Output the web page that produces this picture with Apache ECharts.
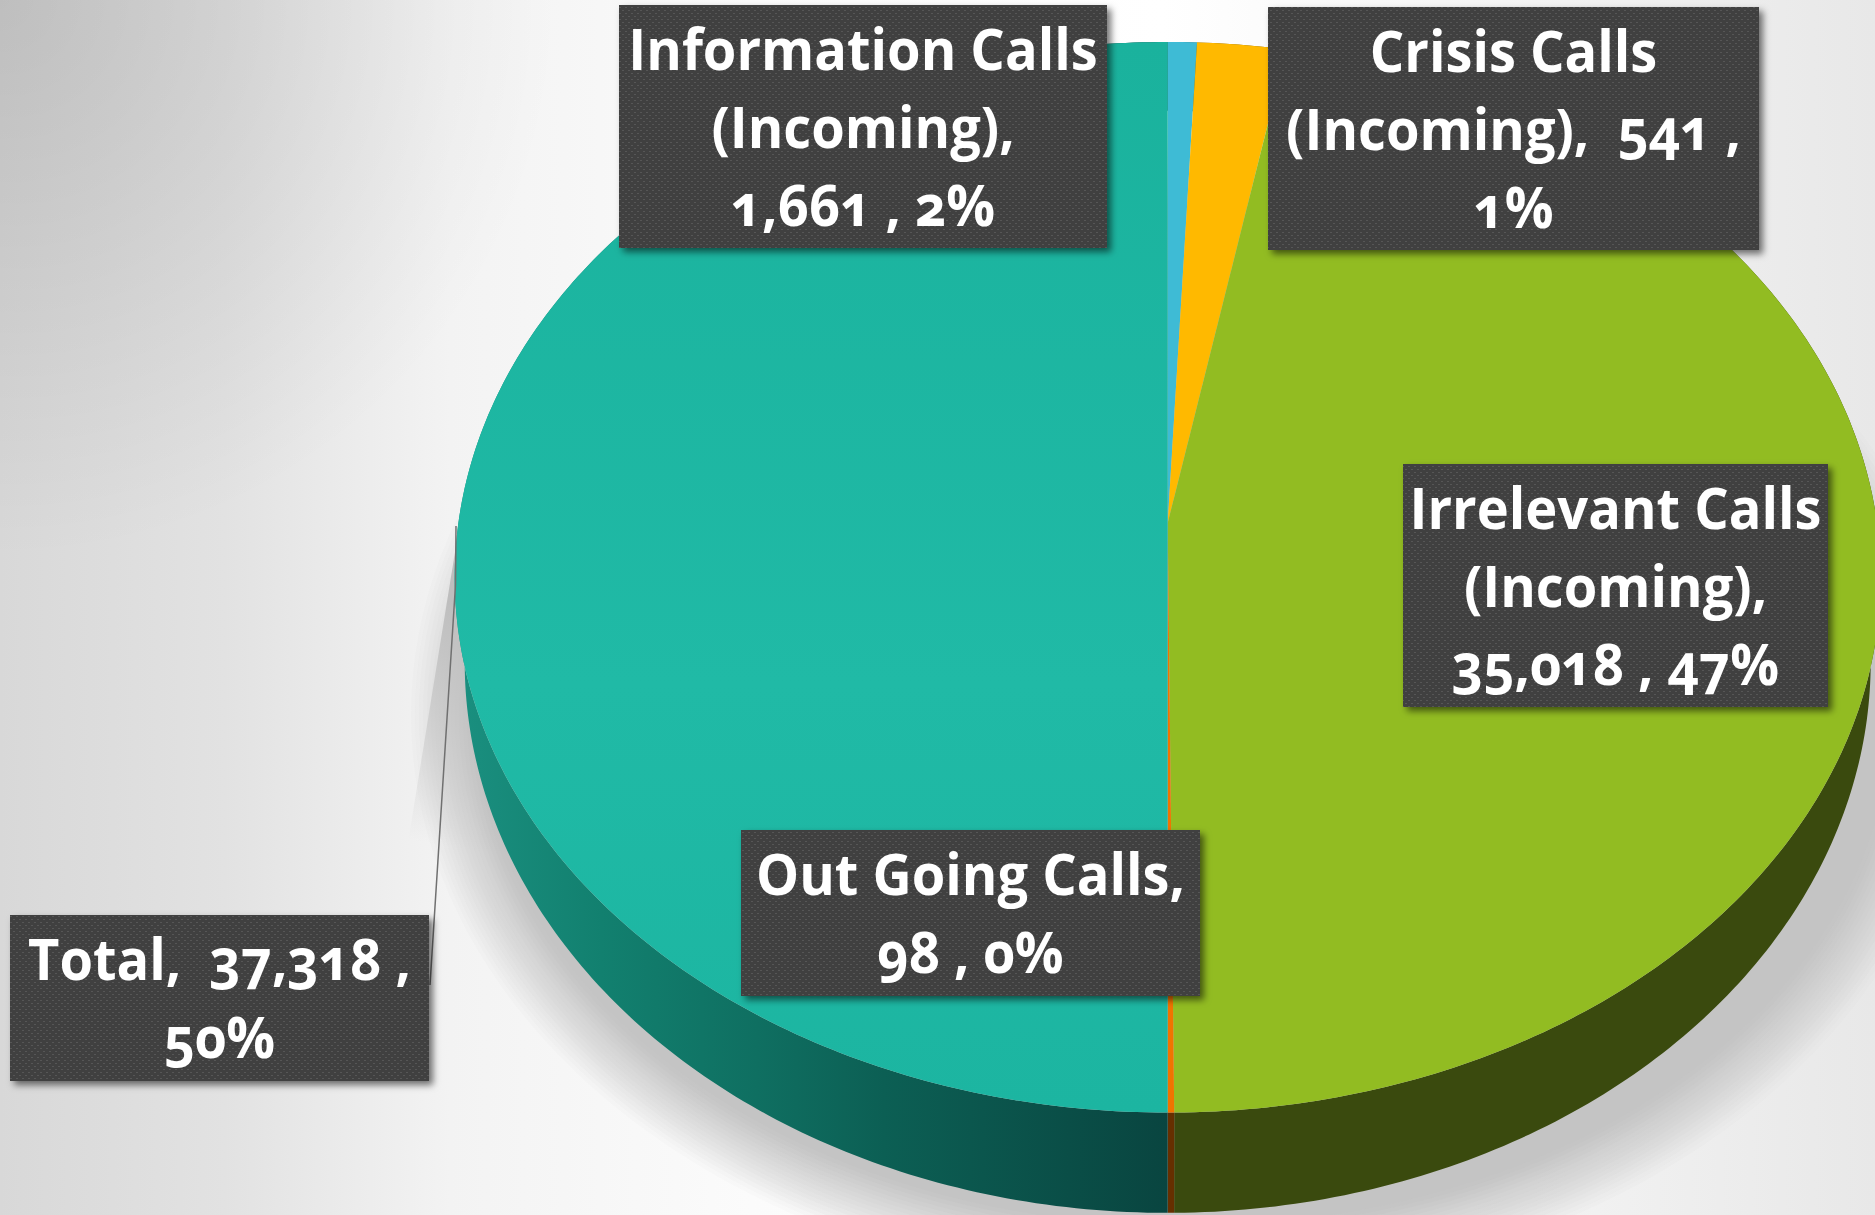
<!DOCTYPE html>
<html><head><meta charset="utf-8">
<style>
html,body{margin:0;padding:0;background:#fff;overflow:hidden}
#c{width:1875px;height:1215px}
svg text{font-feature-settings:"onum" 1 !important;font-variant-numeric:oldstyle-nums !important}
</style>
<script src="https://cdn.jsdelivr.net/npm/echarts@6/dist/echarts.min.js"></script>
</head><body><div id="c"></div>
<script>
// ---- data ----
const categories = ["Crisis Calls (Incoming)", "Information Calls (Incoming)", "Irrelevant Calls (Incoming)", "Out Going Calls", "Total"];
const values = [541, 1661, 35018, 98, 37318];
const topColors = ["#3EBBD5", "#FFB900", "#92BC22", "#F07400", "#1EB7A2"];
const wallColors = ["#1D6A7A", "#7A5800", "#3A4A0E", "#662F00", "#0E6C5F"];

// ---- layout of the tilted disc (perspective projection of a circle) ----
const CX = 1167.7;
const TOP = {y0: 523, p: 0.1014, ry: 535.3 * (1 - 0.1014 * 0.1014), rx: 713 * Math.sqrt(1 - 0.1014 * 0.1014)};
const BOT = {y0: 606, p: 0.1014, ry: 551 * (1 - 0.1014 * 0.1014), rx: 703 * Math.sqrt(1 - 0.1014 * 0.1014)};
const total = values.reduce((a, b) => a + b, 0);
const starts = [];
values.reduce((acc, v, i) => { starts[i] = acc; return acc + v; }, 0);
function project(P, deg) {
  const t = deg * Math.PI / 180, s = Math.sin(t), c = Math.cos(t), w = 1 + P.p * c;
  return [CX + P.rx * s / w, P.y0 - P.ry * c / w];
}
function arc(P, a, b) {
  const pts = [], n = Math.max(2, Math.ceil((b - a) / 0.75));
  for (let i = 0; i <= n; i++) pts.push(project(P, a + (b - a) * i / n));
  return pts;
}
const G = echarts.graphic;
function topFill(i) {
  if (i === 4) return new G.LinearGradient(0, 42, 0, 1112, [
    {offset: 0, color: '#1AB29D'}, {offset: .6, color: '#20BAA6'}, {offset: 1, color: '#1CB5A1'}], true);
  return topColors[i];
}
function wallFill(i) {
  if (i === 4) return new G.LinearGradient(460, 0, 1167, 0, [
    {offset: 0, color: '#1A8F7F'}, {offset: .2, color: '#12806F'}, {offset: .42, color: '#0F6F61'},
    {offset: .6, color: '#0C5F54'}, {offset: 1, color: '#094540'}], true);
  return wallColors[i];
}
function sliceAngles(i) { return [starts[i] / total * 360, (starts[i] + values[i]) / total * 360]; }

// ---- label layout (px) ----
const boxes = [
  {x: 1268, y: 7, w: 491, h: 243, second: true},
  {x: 619, y: 5, w: 488, h: 243, second: false},
  {x: 1403, y: 464, w: 425, h: 243, second: false},
  {x: 741, y: 830, w: 459, h: 166, second: false},
  {x: 10, y: 915, w: 419, h: 166, second: true}
];
const FONT_SIZE = 58, LINE = 78, SCALE_X = 0.935;
function labelLines(i) {
  const v = values[i].toLocaleString('en-US'), pct = Math.round(values[i] / total * 100) + '%';
  const name = categories[i];
  const head = name.includes(' (') ? [name.slice(0, name.indexOf(' (')), name.slice(name.indexOf(' (') + 1)] : [name];
  if (boxes[i].second) {
    head[head.length - 1] += ',  ' + v + ' ,';
    return head.concat(pct);
  }
  head[head.length - 1] += ',';
  return head.concat(v + ' , ' + pct);
}
const patCanvas = document.createElement('canvas');
patCanvas.width = patCanvas.height = 6;
const pc = patCanvas.getContext('2d');
pc.fillStyle = '#404040'; pc.fillRect(0, 0, 6, 6);
pc.fillStyle = '#575757'; pc.fillRect(1, 1, 2, 1); pc.fillRect(4, 4, 2, 1);

const graphicEls = [];
const bgRect = {x: 0, y: 0, width: 1875, height: 1215};
graphicEls.push({type: 'rect', z: -30, silent: true, shape: bgRect,
  style: {fill: new G.LinearGradient(0, 0, 1875, 0, [
    {offset: 0, color: '#d8d8d8'}, {offset: .12, color: '#e2e2e2'}, {offset: .24, color: '#f3f3f3'},
    {offset: .4, color: '#fbfbfb'}, {offset: .62, color: '#ffffff'}, {offset: 1, color: '#e8e8e8'}], true)}});
graphicEls.push({type: 'rect', z: -29, silent: true, shape: bgRect,
  style: {fill: new G.RadialGradient(0, 0, 560, [
    {offset: 0, color: 'rgba(0,0,0,0.12)'}, {offset: 1, color: 'rgba(0,0,0,0)'}], true)}});
// soft drop shadow built from stacked ellipses
const LAYERS = 18;
for (let k = 0; k < LAYERS; k++) {
  const d = 34 - 68 * k / (LAYERS - 1), pts = [];
  for (let a = 0; a < 360; a += 2) {
    const t = a * Math.PI / 180;
    pts.push([1185 + (740 + d) * Math.sin(t), 715 + (545 + d) * Math.cos(t)]);
  }
  graphicEls.push({type: 'polygon', z: -10 + k * 0.01, silent: true, shape: {points: pts},
    style: {fill: '#c4c4c4', opacity: 1 / (LAYERS - k)}});
}
graphicEls.push({type: 'polygon', z: -5, silent: true, shape: {points: [[461, 515], [402, 880], [500, 880], [500, 515]]},
  style: {fill: new G.LinearGradient(400, 900, 450, 600, [
    {offset: 0, color: 'rgba(190,190,190,0)'}, {offset: .2, color: 'rgba(190,190,190,0)'},
    {offset: 1, color: 'rgba(190,190,190,1)'}], true)}});
graphicEls.push({type: 'polyline', z: 40, silent: true, shape: {points: [[456, 526], [455.5, 585], [430, 985]]},
  style: {stroke: '#707070', lineWidth: 1.5, fill: 'none'}});
boxes.forEach((b, i) => {
  graphicEls.push({type: 'rect', z: 50, silent: true, shape: {x: b.x, y: b.y, width: b.w, height: b.h},
    style: {fill: {image: patCanvas, repeat: 'repeat'}, shadowBlur: 7, shadowColor: 'rgba(0,0,0,.55)', shadowOffsetX: 4, shadowOffsetY: 4}});
  labelLines(i).forEach((t, k) => {
    graphicEls.push({type: 'text', z: 60, silent: true, x: b.x + b.w / 2, y: b.y + 42 + k * LINE, scaleX: SCALE_X,
      style: {text: t, fill: '#fff', align: 'center', verticalAlign: 'middle',
        font: '700 ' + FONT_SIZE + 'px "Open Sans"'}});
  });
});

const seriesData = values.map((v, i) => ({name: categories[i], value: [v, i]}));
const chart = echarts.init(document.getElementById('c'), null, {renderer: 'svg', width: 1875, height: 1215});
chart.setOption({
  animation: false,
  graphic: graphicEls,
  series: [
    {type: 'custom', name: 'walls', coordinateSystem: 'none', z: 2, silent: true, data: seriesData,
      renderItem(params, api) {
        const i = api.value(1), [a, b] = sliceAngles(i);
        const pts = arc(TOP, a, b).concat(arc(BOT, a, b).reverse());
        return {type: 'polygon', shape: {points: pts}, style: {fill: wallFill(i)}};
      }},
    {type: 'custom', name: 'faces', coordinateSystem: 'none', z: 3, silent: true, data: seriesData,
      renderItem(params, api) {
        const i = api.value(1), [a, b] = sliceAngles(i);
        const pts = [[CX, TOP.y0]].concat(arc(TOP, a, b));
        return {type: 'polygon', shape: {points: pts}, style: {fill: topFill(i)}};
      }}
  ]
});
</script></body></html>
